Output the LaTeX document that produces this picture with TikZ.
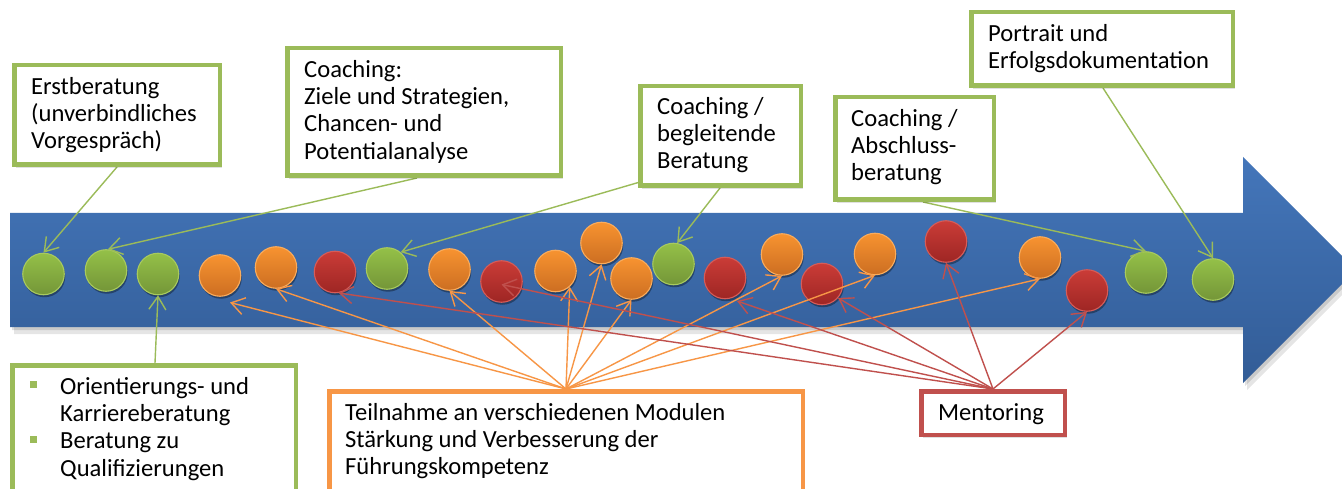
\documentclass[tikz,border=0pt]{standalone}
\usepackage{fontspec}
\setmainfont{Carlito}
\usetikzlibrary{arrows.meta,calc,shadows}
\definecolor{gLine}{RGB}{155,187,89}
\definecolor{oLine}{RGB}{247,150,70}
\definecolor{rLine}{RGB}{192,80,77}
\definecolor{blueT}{RGB}{68,118,186}
\definecolor{blueB}{RGB}{50,92,150}
\definecolor{gTop}{RGB}{148,192,72}
\definecolor{gBot}{RGB}{116,150,56}
\definecolor{gBrd}{RGB}{168,202,94}
\definecolor{oTop}{RGB}{247,147,48}
\definecolor{oBot}{RGB}{204,110,34}
\definecolor{oBrd}{RGB}{250,172,92}
\definecolor{rTop}{RGB}{202,60,55}
\definecolor{rBot}{RGB}{158,38,36}
\definecolor{rBrd}{RGB}{214,92,88}
\newcommand\firstln{\rule{0pt}{22pt}}
\newcommand\gbul{\makebox[30pt][l]{\textcolor{gLine}{\rule[6pt]{7pt}{7pt}}}}
\newcommand\bindent{\hspace*{30pt}}
\begin{document}
\begin{tikzpicture}[x=1pt,y=-1pt,
  ball/.style={circle, minimum size=41.5pt, inner sep=0pt, line width=1.1pt,
    drop shadow={shadow xshift=1pt, shadow yshift=-2.5pt, opacity=.35, fill=black}},
  gball/.style={ball, draw=gBrd, top color=gTop, bottom color=gBot},
  oball/.style={ball, draw=oBrd, top color=oTop, bottom color=oBot},
  rball/.style={ball, draw=rBrd, top color=rTop, bottom color=rBot},
  box/.style={rectangle, fill=white, line width=4.5pt, inner sep=0pt,
    drop shadow={shadow xshift=2pt, shadow yshift=-3pt, opacity=.12, fill=black}},
  gbox/.style={box, draw=gLine},
  obox/.style={box, draw=oLine},
  rbox/.style={box, draw=rLine},
  txt/.style={anchor=north west, inner sep=0pt, align=left,
    font=\fontsize{24.6pt}{27.3pt}\selectfont},
  con/.style={line width=1.4pt, -{Straight Barb[length=13pt,width=17pt]}},
  gcon/.style={con, draw=gLine},
  ocon/.style={con, draw=oLine},
  rcon/.style={con, draw=rLine}
]
\useasboundingbox (0,0) rectangle (1342,489);
\fill[white] (0,0) rectangle (1342,489);
\clip (0,0) rectangle (1342,489);

% big arrow
\fill[black, opacity=.10, shift={(4,7)}] (10,213) -- (1243,213) -- (1243,157) -- (1356,270) -- (1243,383) -- (1243,327) -- (10,327) -- cycle;
\fill[black, opacity=.12, shift={(2,3)}] (10,213) -- (1243,213) -- (1243,157) -- (1356,270) -- (1243,383) -- (1243,327) -- (10,327) -- cycle;
\shade[top color=blueT, bottom color=blueB] (10,213) -- (1243,213) -- (1243,157) -- (1356,270) -- (1243,383) -- (1243,327) -- (10,327) -- cycle;

% circles
\node[gball] (c1) at (43.5,274) {};
\node[gball] (c2) at (106,270.5) {};
\node[gball] (c3) at (158,274) {};
\node[oball] (c4) at (220,275.5) {};
\node[oball] (c5) at (276,267.5) {};
\node[rball] (c6) at (335,272) {};
\node[gball] (c7) at (387,268.5) {};
\node[oball] (c8) at (449.5,269.5) {};
\node[rball] (c9) at (501.5,281.5) {};
\node[oball] (c10) at (555.5,271) {};
\node[oball] (c11) at (601.5,243) {};
\node[oball] (c12) at (631.5,278.5) {};
\node[gball] (c13) at (673.5,264) {};
\node[rball] (c14) at (725,278) {};
\node[oball] (c15) at (782,254.5) {};
\node[rball] (c16) at (822,284) {};
\node[oball] (c17) at (875,254) {};
\node[rball] (c18) at (946,241.5) {};
\node[oball] (c19) at (1040,257.5) {};
\node[rball] (c20) at (1087,290.5) {};
\node[gball] (c21) at (1146,272.5) {};
\node[gball] (c22) at (1213,279.5) {};

% box anchors (coordinates for connector ends, boxes drawn later)
\coordinate (erstS) at (117,167);
\coordinate (coachS) at (417,178);
\coordinate (beglL) at (640,182);
\coordinate (beglS) at (720,188);
\coordinate (abschS) at (923,202);
\coordinate (portrS) at (1103,88);
\coordinate (orientN) at (155,363);
\coordinate (teilN) at (566,389);
\coordinate (mentN) at (993,389);

% green connectors
\draw[gcon] (erstS) -- (c1.north);
\draw[gcon] (coachS) -- (c2.85);
\draw[gcon] (orientN) -- (c3.south);
\draw[gcon] (beglL) -- (c7.50);
\draw[gcon] (beglS) -- (c13.80);
\draw[gcon] (abschS) -- (c21.north);
\draw[gcon] (portrS) -- (c22.north);

% orange connectors
\draw[ocon] (teilN) -- ($(c4)+(10,27)$);
\draw[ocon] (teilN) -- (c5.south);
\draw[ocon] (teilN) -- (c8.south);
\draw[ocon] (teilN) -- (c10.-48);
\draw[ocon] (teilN) -- (c11.south);
\draw[ocon] (teilN) -- (c12.south);
\draw[ocon] (teilN) -- (c15.south);
\draw[ocon] (teilN) -- (c17.south);
\draw[ocon] (teilN) -- (c19.south);

% red connectors
\draw[rcon] (mentN) -- (c6.-80);
\draw[rcon] (mentN) -- ($(c9)+(0,3)$);
\draw[rcon] (mentN) -- ($(c14)+(12,23)$);
\draw[rcon] (mentN) -- (c16.-41);
\draw[rcon] (mentN) -- (c18.south);
\draw[rcon] (mentN) -- (c20.south);

% boxes
\node[gbox, minimum width=205.5pt, minimum height=99.5pt] (erst) at (117,115) {};
\node[gbox, minimum width=273.5pt, minimum height=127.5pt] (coach) at (424,112) {};
\node[gbox, minimum width=160.5pt, minimum height=99.5pt] (begl) at (720.5,136) {};
\node[gbox, minimum width=158.5pt, minimum height=102.5pt] (absch) at (914.5,148.5) {};
\node[gbox, minimum width=261.5pt, minimum height=73.5pt] (portr) at (1102,49) {};
\node[gbox, minimum width=283.5pt, minimum height=152.5pt] (orient) at (154,441.5) {};
\node[obox, minimum width=473.5pt, minimum height=126.5pt] (teil) at (566,454.5) {};
\node[rbox, minimum width=143.5pt, minimum height=43.5pt] (ment) at (993,413) {};

% texts
\node[txt] (terst) at (31,72) {\firstln Erstberatung\\(unverbindliches\\Vorgespräch)};
\node[txt] (tcoach) at (304,55) {\firstln Coaching:\\Ziele und Strategien,\\Chancen- und\\Potentialanalyse};
\node[txt] (tbegl) at (657,92) {\firstln Coaching /\\begleitende\\Beratung};
\node[txt] (tabsch) at (851,104) {\firstln Coaching /\\Abschluss-\\beratung};
\node[txt] (tportr) at (988,19) {\firstln Portrait und\\Erfolgsdokumentation};
\node[txt] (torient) at (30,372) {\firstln\gbul Orientierungs- und\\\bindent Karriereberatung\\\gbul Beratung zu\\\bindent Qualifizierungen};
\node[txt] (tteil) at (345,398) {\firstln Teilnahme an verschiedenen Modulen\\Stärkung und Verbesserung der\\Führungskompetenz};
\node[txt] (tment) at (938,398) {\firstln Mentoring};
\end{tikzpicture}
\end{document}
